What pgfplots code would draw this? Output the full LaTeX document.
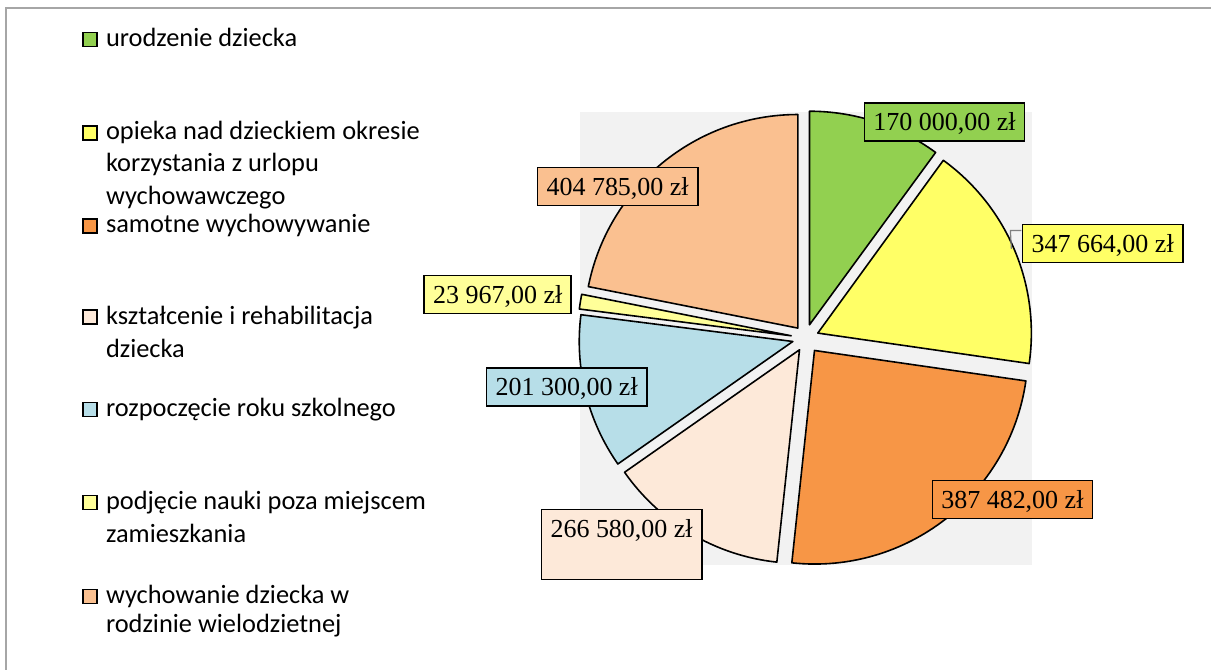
\documentclass[border=0pt]{standalone}
\usepackage{pgfplots}
\pgfplotsset{compat=1.18}
\usepackage{pgfplotstable}
\usepackage{fontspec}
\setmainfont{Liberation Serif}
\newfontfamily\legfont{Carlito}
\definecolor{cgreen}{HTML}{92D050}
\definecolor{cyellow}{HTML}{FFFF66}
\definecolor{corange}{HTML}{F79646}
\definecolor{cpeach}{HTML}{FDE9D9}
\definecolor{cblue}{HTML}{B7DEE8}
\definecolor{clyellow}{HTML}{FFFF99}
\definecolor{ctan}{HTML}{FAC090}
\definecolor{cplot}{HTML}{F2F2F2}
\definecolor{cframe}{HTML}{A6A6A6}

% value = amount shown in label; vx,vy = slice tip; a1,a2 = slice angles as drawn;
% lx,ly = label box top centre; dep = extra depth of label box
\pgfplotstableread{
value  vx     vy     a1     a2     lx      ly     dep  col
170000 810.0  345.0  53.8   90.0   945.0   568.0  0    cgreen
347664 818.3  336.7  -8.2   54.0   1103.3  446.0  0    cyellow
387482 815.0  319.3  -96.1  -8.2   1013.0  190.0  0    corange
266580 800.0  320.0  -145.0 -96.1  622.0   161.0  16   cpeach
201300 793.3  328.3  172.8  215.0  567.0   302.7  0    cblue
23967  791.7  334.0  168.8  172.8  498.0   395.0  0    clyellow
404785 798.3  341.7  90.0   168.8  618.0   503.3  0    ctan
}\piedata

\pgfkeys{/pgf/number format/.cd, fixed, fixed zerofill, precision=2, use comma, 1000 sep={\ }, assume math mode=true}

\begin{document}
\begin{tikzpicture}[
  lbl/.style={draw=black, line width=0.8pt, font=\fontsize{13}{15}\selectfont,
    inner xsep=4.5pt, inner ysep=5pt, text height=9pt, anchor=north},
  leg/.style={font=\legfont\fontsize{13.2}{15}\selectfont, inner sep=0pt, anchor=base west},
  sq/.style={draw=black, line width=0.75pt}]
\begin{axis}[x=0.5pt, y=0.5pt, xmin=0, xmax=1212, ymin=0, ymax=670,
  hide axis, clip=false]
\path[fill=white] (axis cs:0,0) rectangle (axis cs:1212,670);
\draw[cframe, line width=0.75pt] (axis cs:6,0) -- (axis cs:6,662) -- (axis cs:1212,662);
\fill[cplot] (axis cs:580,105) rectangle (axis cs:1033,558);
% slices
\pgfplotsinvokeforeach{0,...,6}{
  \pgfplotstablegetelem{#1}{vx}\of\piedata \edef\vx{\pgfplotsretval}
  \pgfplotstablegetelem{#1}{vy}\of\piedata \edef\vy{\pgfplotsretval}
  \pgfplotstablegetelem{#1}{a1}\of\piedata \edef\aone{\pgfplotsretval}
  \pgfplotstablegetelem{#1}{a2}\of\piedata \edef\atwo{\pgfplotsretval}
  \pgfplotstablegetelem{#1}{col}\of\piedata \edef\col{\pgfplotsretval}
  \edef\temp{\noexpand\filldraw[fill=\col, draw=black, line width=0.8pt, line join=round]
    (axis cs:\vx,\vy) -- ++(\aone:106.85pt) arc[start angle=\aone, end angle=\atwo, radius=106.85pt] -- cycle;}
  \temp
}
% leader line of yellow label
\draw[gray, line width=0.6pt] (axis cs:1022,439.3) -- (axis cs:1011,439.3) -- (axis cs:1012,421);
% labels
\pgfplotsinvokeforeach{0,...,6}{
  \pgfplotstablegetelem{#1}{value}\of\piedata \edef\val{\pgfplotsretval}
  \pgfplotstablegetelem{#1}{lx}\of\piedata \edef\lx{\pgfplotsretval}
  \pgfplotstablegetelem{#1}{ly}\of\piedata \edef\ly{\pgfplotsretval}
  \pgfplotstablegetelem{#1}{dep}\of\piedata \edef\dep{\pgfplotsretval}
  \pgfplotstablegetelem{#1}{col}\of\piedata \edef\col{\pgfplotsretval}
  \edef\temp{\noexpand\node[lbl, fill=\col, text depth=\dep pt] at (axis cs:\lx,\ly) {\noexpand\pgfmathprintnumber{\val} zł};}
  \temp
}
% legend
\draw[sq, fill=cgreen]   (axis cs:83.3,623.7) rectangle (axis cs:97.3,637.7);
\draw[sq, fill=cyellow]  (axis cs:83.3,530) rectangle (axis cs:97.3,544);
\draw[sq, fill=corange]  (axis cs:83.3,437) rectangle (axis cs:97.3,451);
\draw[sq, fill=cpeach]   (axis cs:83.3,346) rectangle (axis cs:97.3,360);
\draw[sq, fill=cblue]    (axis cs:83.3,253) rectangle (axis cs:97.3,267);
\draw[sq, fill=clyellow] (axis cs:83.3,160) rectangle (axis cs:97.3,174);
\draw[sq, fill=ctan]     (axis cs:83.3,66) rectangle (axis cs:97.3,80);
\node[leg] at (axis cs:105.7,623.3) {urodzenie dziecka};
\node[leg] at (axis cs:105.7,530) {opieka nad dzieckiem okresie};
\node[leg] at (axis cs:105.7,498.3) {korzystania z urlopu};
\node[leg] at (axis cs:105.7,465.7) {wychowawczego};
\node[leg] at (axis cs:105.7,437.3) {samotne wychowywanie};
\node[leg] at (axis cs:105.7,345.7) {kształcenie i rehabilitacja};
\node[leg] at (axis cs:105.7,312.7) {dziecka};
\node[leg] at (axis cs:105.7,253) {rozpoczęcie roku szkolnego};
\node[leg] at (axis cs:105.7,160) {podjęcie nauki poza miejscem};
\node[leg] at (axis cs:105.7,126.7) {zamieszkania};
\node[leg] at (axis cs:105.7,66) {wychowanie dziecka w};
\node[leg] at (axis cs:105.7,36.7) {rodzinie wielodzietnej};
\end{axis}
\end{tikzpicture}
\end{document}
